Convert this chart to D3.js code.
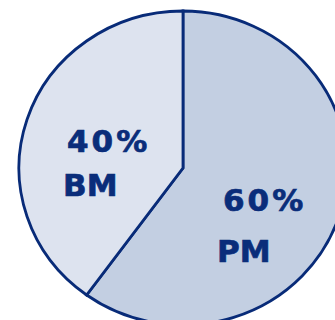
<!DOCTYPE html>
<html>
<head>
<meta charset="utf-8">
<script src="https://cdn.jsdelivr.net/npm/d3@7"></script>
<style>
  html, body { margin: 0; padding: 0; background: #ffffff; }
  svg { display: block; }
  .lbl { font-family: "DejaVu Sans", Verdana, sans-serif; font-weight: bold; fill: #0a2d7a; stroke: #0a2d7a; stroke-width: 0.7px; }
</style>
</head>
<body>
<svg id="chart" width="335" height="320"></svg>
<script>
// Share of each mode
const categories = ["PM", "BM"];
const values = [60, 40];
const percentLabels = ["60%", "40%"];

const fills = { PM: "#c3cfe2", BM: "#dde3ef" };
const strokeColor = "#082b78";

const W = 335, H = 320;
const cx = 183, cy = 168;
const r = 157;              // vertical radius
const xStretch = 164 / 157; // the disc is drawn slightly wider than tall

// Label positions (left edge of text block, baselines of the two lines)
const labelPos = {
  PM: { pctX: 223, pctY: 211, nameX: 217, nameY: 262 },
  BM: { pctX: 67,  pctY: 152, nameX: 63,  nameY: 196 }
};
const fontSize = 31;

const svg = d3.select("#chart");

const pie = d3.pie().sort(null).value(d => d.value);
const arcs = pie(categories.map((c, i) => ({ name: c, value: values[i], pct: percentLabels[i] })));

const arc = d3.arc().innerRadius(0).outerRadius(r);

const g = svg.append("g")
  .attr("transform", `translate(${cx},${cy}) scale(${xStretch},1)`);

g.selectAll("path.slice")
  .data(arcs)
  .join("path")
  .attr("class", "slice")
  .attr("d", arc)
  .attr("fill", d => fills[d.data.name])
  .attr("stroke", strokeColor)
  .attr("stroke-width", 2.8)
  .attr("stroke-linejoin", "miter")
  .attr("vector-effect", "non-scaling-stroke");

const labels = svg.append("g");
arcs.forEach(d => {
  const p = labelPos[d.data.name];
  labels.append("text")
    .attr("class", "lbl")
    .attr("x", p.pctX)
    .attr("y", p.pctY)
    .attr("font-size", fontSize)
    .attr("letter-spacing", 3)
    .text(d.data.pct);
  labels.append("text")
    .attr("class", "lbl")
    .attr("x", p.nameX)
    .attr("y", p.nameY)
    .attr("font-size", fontSize)
    .text(d.data.name);
});
</script>
</body>
</html>
